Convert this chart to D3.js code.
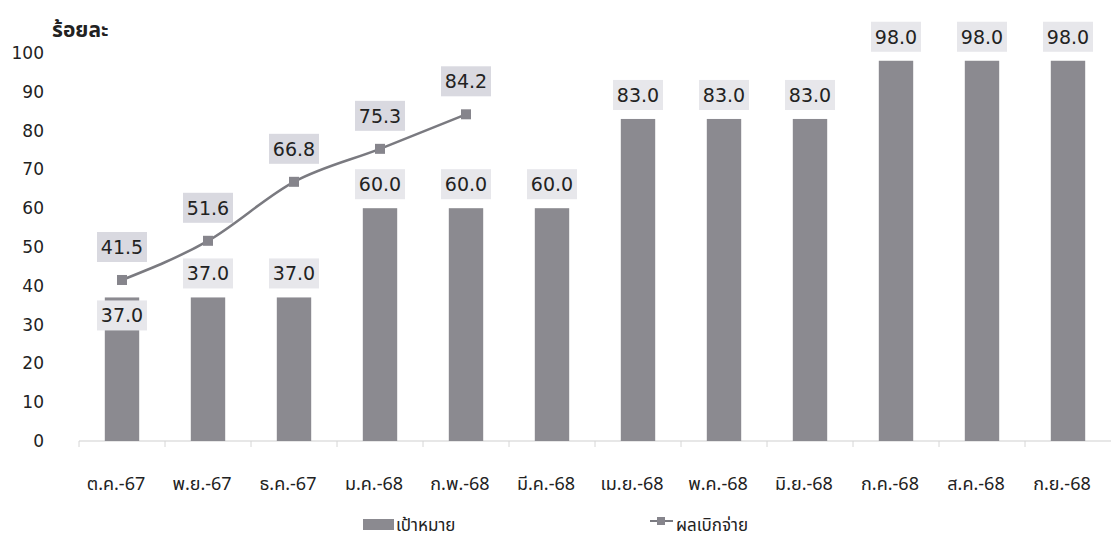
<!DOCTYPE html>
<html lang="th">
<head>
<meta charset="UTF-8">
<title>เป้าหมายและผลเบิกจ่าย</title>
<script src="https://cdn.jsdelivr.net/npm/d3@7"></script>
<style>
  body { margin: 0; background: #fff; }
  text { font-family: "DejaVu Sans", "Noto Sans", sans-serif; fill: #222; }
  .thai { font-family: "Noto Sans Thai", "Noto Sans", "DejaVu Sans", sans-serif; }
  .tick text { font-size: 17px; }
  .lbl { font-size: 19px; text-anchor: middle; dominant-baseline: central; }
</style>
</head>
<body>
<script>
// ข้อมูล
var months = ["ต.ค.-67", "พ.ย.-67", "ธ.ค.-67", "ม.ค.-68", "ก.พ.-68", "มี.ค.-68",
              "เม.ย.-68", "พ.ค.-68", "มิ.ย.-68", "ก.ค.-68", "ส.ค.-68", "ก.ย.-68"];
var target = [37.0, 37.0, 37.0, 60.0, 60.0, 60.0, 83.0, 83.0, 83.0, 98.0, 98.0, 98.0];
var actual = [41.5, 51.6, 66.8, 75.3, 84.2];
var yTicks = [0, 10, 20, 30, 40, 50, 60, 70, 80, 90, 100];
var yTitle = "ร้อยละ";
var legendBar = "เป้าหมาย";
var legendLine = "ผลเบิกจ่าย";

var width = 1113, height = 538;
var svg = d3.select("body").append("svg")
  .attr("width", width)
  .attr("height", height);

var x = d3.scaleBand()
  .domain(months)
  .range([79, 1111])
  .paddingInner(0.6)
  .paddingOuter(0.3);

var y = d3.scaleLinear()
  .domain([0, 100])
  .range([441, 53]);

function cx(i) { return x(months[i]) + x.bandwidth() / 2; }

// แกน y
var yAxis = svg.append("g")
  .attr("transform", "translate(44,0)")
  .call(d3.axisLeft(y).tickValues(yTicks).tickSize(0).tickPadding(0));
yAxis.select(".domain").remove();
yAxis.selectAll("text").attr("fill", "#222");

svg.append("text")
  .attr("class", "thai")
  .attr("x", 52)
  .attr("y", 37)
  .attr("font-size", 21)
  .attr("font-weight", "bold")
  .text(yTitle);

// แกน x
svg.append("line")
  .attr("x1", 79).attr("x2", 1111)
  .attr("y1", y(0)).attr("y2", y(0))
  .attr("stroke", "#cfcfcf");

svg.selectAll(".sep")
  .data(months)
  .enter().append("line")
  .attr("class", "sep")
  .attr("x1", function(d, i) { return cx(i) - x.step() / 2; })
  .attr("x2", function(d, i) { return cx(i) - x.step() / 2; })
  .attr("y1", y(0)).attr("y2", y(0) + 6)
  .attr("stroke", "#d6d6d6");

svg.selectAll(".xlab")
  .data(months)
  .enter().append("text")
  .attr("class", "xlab thai")
  .attr("x", function(d, i) { return cx(i) - 6; })
  .attr("y", 490)
  .attr("text-anchor", "middle")
  .attr("font-size", 18)
  .text(function(d) { return d; });

// แท่ง
svg.selectAll(".bar")
  .data(target)
  .enter().append("rect")
  .attr("class", "bar")
  .attr("x", function(d, i) { return x(months[i]); })
  .attr("width", x.bandwidth())
  .attr("y", function(d) { return y(d); })
  .attr("height", function(d) { return y(0) - y(d); })
  .attr("fill", "#8b8a90");

function label(v, px, py, fill) {
  svg.append("rect")
    .attr("x", px - 25).attr("y", py - 15)
    .attr("width", 50).attr("height", 30)
    .attr("fill", fill);
  svg.append("text")
    .attr("class", "lbl")
    .attr("x", px).attr("y", py)
    .text(d3.format(".1f")(v));
}

target.forEach(function(v, i) {
  var py = y(v) - 24;
  // ถ้าชนกับจุดของเส้น ให้วางป้ายไว้ใต้จุด
  if (actual[i] !== undefined && Math.abs(y(actual[i]) - py) < 22) py = y(v) + 18;
  label(v, cx(i), py, "#e7e7eb");
});

// เส้น
var line = d3.line()
  .x(function(d, i) { return cx(i); })
  .y(function(d) { return y(d); })
  .curve(d3.curveMonotoneX);

svg.append("path")
  .datum(actual)
  .attr("d", line)
  .attr("fill", "none")
  .attr("stroke", "#7a7a80")
  .attr("stroke-width", 2.5);

svg.selectAll(".pt")
  .data(actual)
  .enter().append("rect")
  .attr("class", "pt")
  .attr("x", function(d, i) { return cx(i) - 5; })
  .attr("y", function(d) { return y(d) - 5; })
  .attr("width", 10).attr("height", 10)
  .attr("fill", "#86858c");

actual.forEach(function(v, i) {
  label(v, cx(i), y(v) - 33, "#d9d9e0");
});

// คำอธิบาย
var leg = svg.append("g");
leg.append("rect")
  .attr("x", 363).attr("y", 519)
  .attr("width", 31).attr("height", 11)
  .attr("fill", "#8b8a90");
leg.append("text")
  .attr("class", "thai")
  .attr("x", 396).attr("y", 531)
  .attr("font-size", 17)
  .text(legendBar);

leg.append("line")
  .attr("x1", 650).attr("x2", 673)
  .attr("y1", 521).attr("y2", 521)
  .attr("stroke", "#7a7a80").attr("stroke-width", 2);
leg.append("rect")
  .attr("x", 657).attr("y", 517)
  .attr("width", 8).attr("height", 8)
  .attr("fill", "#86858c");
leg.append("text")
  .attr("class", "thai")
  .attr("x", 676).attr("y", 531)
  .attr("font-size", 17)
  .text(legendLine);
</script>
</body>
</html>
